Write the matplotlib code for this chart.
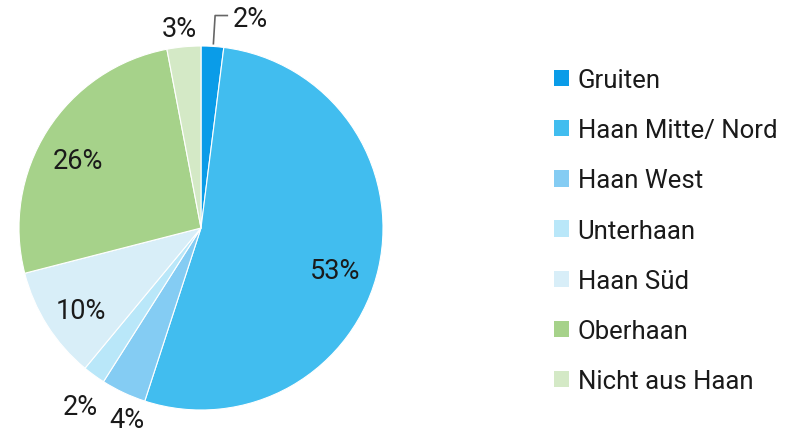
import numpy as np
import matplotlib
matplotlib.use("Agg")
import matplotlib.pyplot as plt
from matplotlib.patches import Patch

plt.rcParams['font.family'] = ['Roboto', 'DejaVu Sans']

categories = ["Gruiten", "Haan Mitte/ Nord", "Haan West", "Unterhaan",
              "Haan Süd", "Oberhaan", "Nicht aus Haan"]
shares = [2, 53, 4, 2, 10, 26, 3]
colors = ["#0a9ce8", "#41bdef", "#84ccf3", "#b9e7f9", "#d8eef8",
          "#a6d28a", "#d4e9c6"]

W, H = 798, 435
fig = plt.figure(figsize=(W / 100, H / 100), dpi=100)
cx, cy, r = 201, 229, 182
ax = fig.add_axes([(cx - r) / W, (H - cy - r) / H, 2 * r / W, 2 * r / H])

wedges, _ = ax.pie(shares, colors=colors, startangle=90, counterclock=False,
                   wedgeprops=dict(linewidth=0.8, edgecolor="white"))
ax.set_xlim(-1, 1)
ax.set_ylim(-1, 1)
ax.set_aspect("equal")

# label placement: (angular shift in degrees from wedge middle, distance / radius)
placement = [None, (-3.6, 0.77), (3.7, 1.115), (1.5, 1.17),
             (1.0, 0.79), (2.8, 0.78), (0.6, 1.12)]
fs_lab = 19.5
fs_leg = 18.5
txt_col = "#1a1a1a"
for i, (w, v) in enumerate(zip(wedges, shares)):
    mid_deg = (w.theta1 + w.theta2) / 2
    if i == 0:
        # leader line for the smallest slice at the top
        mid = np.deg2rad(mid_deg)
        p0 = (np.cos(mid) * 1.0 + 0.005, np.sin(mid) * 1.0 + 0.01)
        elbow_ang = np.deg2rad(90 - 3.8)
        p1 = (np.cos(elbow_ang) * 1.17, np.sin(elbow_ang) * 1.17)
        p2 = (p1[0] + 13 / r, p1[1])
        ax.plot([p0[0], p1[0], p2[0]], [p0[1], p1[1], p2[1]],
                color="#666666", lw=1.2, clip_on=False, solid_capstyle="butt")
        ax.text(p2[0] + 5 / r, p2[1], f"{v}%", ha="left", va="center_baseline",
                fontsize=fs_lab, color=txt_col)
        continue
    shift, d = placement[i]
    ang = np.deg2rad(mid_deg + shift)
    ax.text(np.cos(ang) * d, np.sin(ang) * d, f"{v}%", ha="center",
            va="center_baseline", fontsize=fs_lab, color=txt_col)

handles = [Patch(facecolor=c, edgecolor="none") for c in colors]
leg = fig.legend(handles, categories, loc="upper left",
                 bbox_to_anchor=(554 / W, 1 - 69 / H), frameon=False,
                 fontsize=fs_leg, handlelength=0.6, handleheight=0.6,
                 handletextpad=0.32, labelspacing=1.02, borderpad=0,
                 borderaxespad=0)
for t in leg.get_texts():
    t.set_color(txt_col)

fig.savefig("out.png", dpi=100)
